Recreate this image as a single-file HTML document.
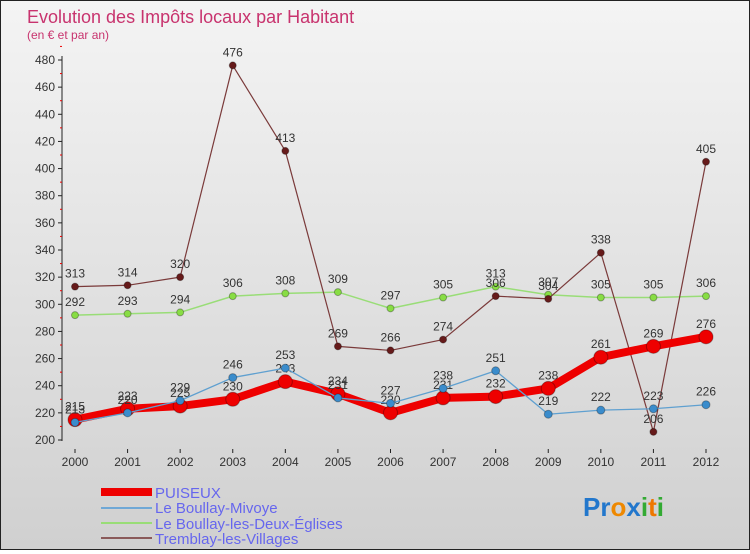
<!DOCTYPE html>
<html><head><meta charset="utf-8"><style>
body{margin:0;width:750px;height:550px;overflow:hidden;font-family:"Liberation Sans",sans-serif}
#wrap{position:relative;width:748px;height:548px;border:1px solid #222;background:linear-gradient(#f4f4f4,#d0d0d0)}
</style></head><body>
<div id="wrap">
<svg id="chart" width="748" height="548" style="font-family:'Liberation Sans',sans-serif">
<text x="26" y="22" font-size="18" fill="#c8336e">Evolution des Impôts locaux par Habitant</text>
<text x="26" y="38" font-size="12" fill="#c8336e">(en € et par an)</text>
<g id="axes"></g><g id="series"></g>
<g font-size="15" fill="#6666ee">
<rect x="100" y="487" width="51" height="8" fill="#ee0000"/>
<text x="154" y="497">PUISEUX</text>
<rect x="100" y="506" width="51" height="2" fill="#6fa8d6"/>
<text x="154" y="512">Le Boullay-Mivoye</text>
<rect x="100" y="521" width="51" height="2" fill="#99dd77"/>
<text x="154" y="528">Le Boullay-les-Deux-Églises</text>
<rect x="100" y="536" width="51" height="2" fill="#8a5a5a"/>
<text x="154" y="543">Tremblay-les-Villages</text>
</g>
<text x="582" y="515" font-size="26" font-weight="bold"><tspan fill="#2277cc">Pr</tspan><tspan fill="#ee8800">o</tspan><tspan fill="#2277cc">x</tspan><tspan fill="#33aa33">i</tspan><tspan fill="#ee7700">t</tspan><tspan fill="#33aa33">i</tspan></text>
</svg></div>
<script>
const years=[2000,2001,2002,2003,2004,2005,2006,2007,2008,2009,2010,2011,2012];
const yTicks=[200,220,240,260,280,300,320,340,360,380,400,420,440,460,480];
const puiseux=[215,223,225,230,243,234,220,231,232,238,261,269,276];
const mivoye=[213,220,229,246,253,231,227,238,251,219,222,223,226];
const deuxEglises=[292,293,294,306,308,309,297,305,313,307,305,305,306];
const tremblay=[313,314,320,476,413,269,266,274,306,304,338,206,405];
const NS="http://www.w3.org/2000/svg";
const xS=i=>74+i*(705-74)/(years.length-1);
const yS=v=>439-(v-200)*(380/280);
function mk(t,a,p){const e=document.createElementNS(NS,t);for(const k in a)e.setAttribute(k,a[k]);p.appendChild(e);return e;}
const ax=document.getElementById('axes'),sr=document.getElementById('series');
let l=mk('line',{x1:61,y1:55,x2:61,y2:440,stroke:'#222'},ax);


yTicks.forEach(v=>{
 mk('line',{x1:57,y1:yS(v),x2:61,y2:yS(v),stroke:'#222'},ax);
 mk('line',{x1:59,y1:yS(v+10),x2:61,y2:yS(v+10),stroke:'#e00'},ax);
 const t=mk('text',{x:54,y:yS(v)+4,'text-anchor':'end','font-size':12,fill:'#333'},ax);
 t.textContent=v;
 
 
});
years.forEach((y,i)=>{
 mk('line',{x1:xS(i),y1:448,x2:xS(i),y2:452,stroke:'#222'},ax);
 const t=mk('text',{x:xS(i),y:465,'text-anchor':'middle','font-size':12,fill:'#333'},ax);
 t.textContent=y;
 
 
});
function draw(d,color,w,r,dot,name){
 const g=mk('g',{},sr);
 
 
 mk('polyline',{points:d.map((v,i)=>xS(i)+','+yS(v)).join(' '),fill:'none',stroke:color,'stroke-width':w,'stroke-linejoin':'round'},g);
 d.forEach((v,i)=>{
  const c=mk('circle',{cx:xS(i),cy:yS(v),r:r,fill:dot,stroke:'rgba(0,0,0,0.3)'},g);
  
  
  const t=mk('text',{x:xS(i),y:yS(v)-9,'text-anchor':'middle','font-size':12,fill:'#333'},g);
  t.textContent=v;
  
  
 });
}
draw(deuxEglises,'#99dd77',1.5,3.5,'#88dd44','deux-eglises');
draw(tremblay,'#7a3a3a',1.2,3.5,'#661a1a','tremblay');
draw(puiseux,'#ee0000',8,7,'#ee0000','puiseux');
draw(mivoye,'#5fa0d0',1.3,4,'#3a8ccc','mivoye');
</script></body></html>
